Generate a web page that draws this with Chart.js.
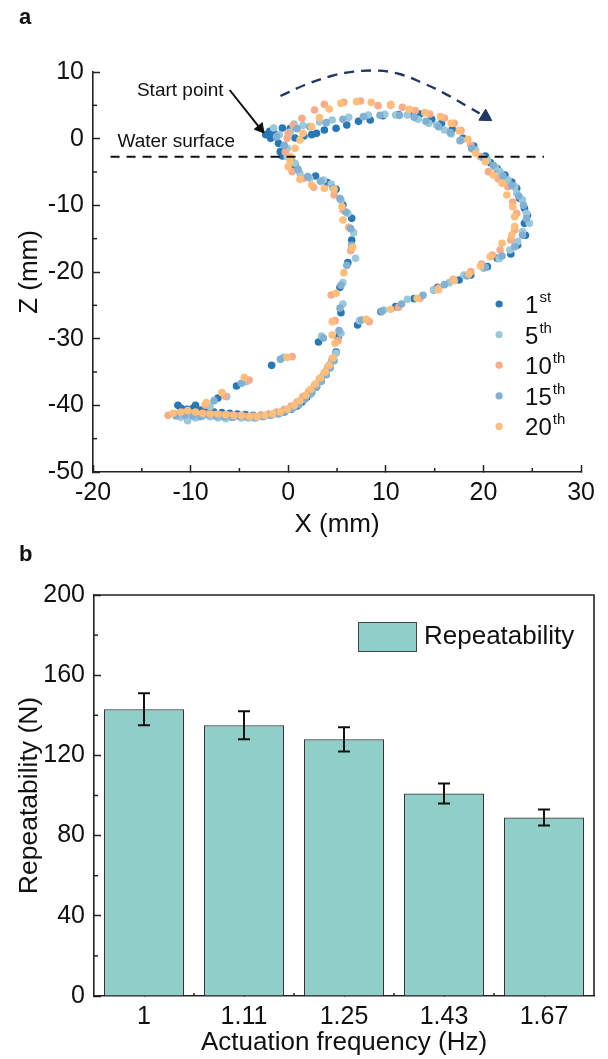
<!DOCTYPE html>
<html>
<head>
<meta charset="utf-8">
<script src="https://cdn.jsdelivr.net/npm/chart.js@4.4.1/dist/chart.umd.min.js"></script>
<style>
  html, body { margin: 0; padding: 0; background: #fff; }
  #wrap { position: relative; width: 608px; height: 1059px; }
  .panel { position: absolute; left: 0; width: 608px; }
  .tag { position: absolute; left: 19px; font: bold 22px 'Liberation Sans', Arial, sans-serif; color: #111; }
</style>
</head>
<body>
<div id="wrap">
  <div class="panel" style="top:0;height:540px"><canvas id="traj" width="608" height="540"></canvas></div>
  <div class="panel" style="top:540px;height:519px"><canvas id="bars" width="608" height="519"></canvas></div>
  <div class="tag" style="top:4px">a</div>
  <div class="tag" style="top:541px">b</div>
</div>
<script>
const FONT = "'Liberation Sans', Arial, sans-serif";
const INK = '#222';

// panel a: trajectories, [X mm, Z mm]
const cycleNames = ['1', '5', '10', '15', '20'];
const cycleSup = ['st', 'th', 'th', 'th', 'th'];
const cycleColors = ['#2878B5', '#9AC9DB', '#F8AC8C', '#82B0D2', '#FFBE7A'];

const cycle1 = [
  [-2.3,0.6],[-1.9,1.1],[-1.8,0.05],[-1.5,1.0],[-1.3,0.3],[-1.0,-0.7],[-0.8,-1.95],[-0.6,-2.6],
  [-0.6,1.6],[0.2,1.5],[0.7,0.1],[1.6,0.4],[2.4,0.6],[2.9,0.8],[3.7,1.3],[4.9,1.55],[6.0,2.05],[7.2,2.6],[8.4,2.8],[9.7,3.45],
  [11.3,3.6],[12.4,3.75],[13.5,3.7],[14.7,2.9],[15.7,2.3],[16.8,1.4],[17.9,0.05],[19.0,-1.1],[20.2,-2.6],[20.7,-3.6],
  [21.4,-4.5],[22.2,-5.45],[22.9,-6.5],[23.4,-7.45],[23.7,-8.95],[24.2,-10.45],[24.5,-11.5],[24.2,-12.7],[24.3,-14.5],
  [23.5,-15.95],[22.8,-17.3],[21.4,-17.95],[20.4,-19.2],[18.7,-20.45],[17.5,-21.2],[15.3,-22.3],[14.9,-22.7],[12.9,-24.0],
  [11.0,-25.2],[9.5,-25.95],[7.1,-27.95],
  [3.1,-30.5],[-1.7,-34.0],[-5.3,-37.1],[-7.2,-38.9],[-9.5,-40.0],[-11.3,-40.0],
  [-11.0,-40.4],[-10.4,-40.6],[-9.8,-40.5],[-9.0,-40.7],[-8.3,-40.9],[-7.6,-41.0],[-6.8,-41.1],[-6.0,-41.2],[-5.2,-41.3],
  [-4.4,-41.4],[-3.6,-41.5],[-2.8,-41.5],[-2.0,-41.4],[-1.2,-41.2],[-0.4,-41.0],[0.3,-40.6],[0.9,-40.1],[1.4,-39.5],
  [1.9,-38.8],[2.4,-38.0],[2.9,-37.1],[3.3,-36.2],[3.7,-35.3],[4.1,-34.3],[4.5,-33.3],[4.9,-32.0],
  [5.1,-29.8],[5.4,-26.1],[5.3,-22.3],[6.1,-18.6],[6.5,-15.2],[6.5,-11.95],[5.6,-9.95],[4.9,-7.6],[4.0,-6.6],[2.8,-5.6],
  [0.7,-4.0],[-0.8,-1.95]
];
const cycle5 = [
  [-1.5,1.6],[-0.9,0.6],[-0.1,-1.45],[-0.1,-2.7],[0.7,-3.7],[1.2,-5.2],[2.2,-5.95],[3.6,-6.2],[4.4,-6.8],[5.4,-9.2],
  [6.1,-11.2],[6.7,-14.1],[6.9,-17.95],[5.6,-21.6],[5.6,-24.8],[5.4,-29.2],[4.9,-32.2],
  [0.2,1.0],[0.6,2.2],[1.5,2.0],[3.2,2.5],[4.5,2.8],[6.2,3.2],[8.2,3.55],[9.9,3.65],[11.0,3.55],[12.2,3.55],[13.3,2.9],
  [14.4,2.3],[15.2,2.05],[16.0,1.3],[16.7,0.7],[17.7,-0.2],[19.2,-1.7],[20.4,-3.2],[21.2,-4.3],[21.7,-4.95],[22.5,-6.2],
  [23.2,-7.2],[23.4,-8.2],[24.0,-9.2],[24.4,-11.2],[24.7,-12.7],[24.0,-13.95],[23.5,-15.45],[22.7,-16.7],[21.6,-18.0],
  [20.0,-19.45],[18.0,-20.45],[16.5,-21.6],[14.9,-22.7],[12.2,-24.1],[9.8,-25.7],[7.3,-27.3],[3.4,-29.6],[-0.5,-32.8],
  [-4.3,-36.45],[-6.3,-38.7],[-8.0,-40.2],
  [-11.0,-41.8],[-10.3,-42.3],[-9.5,-41.9],[-8.8,-41.6],[-8.0,-41.7],[-7.2,-41.9],[-6.4,-42.0],[-5.6,-41.8],[-4.8,-41.9],
  [-4.0,-41.9],[-3.2,-41.8],[-2.4,-41.6],[-1.6,-41.4],[-0.8,-41.1],[0.0,-40.6],[0.6,-40.1],[1.2,-39.4],[1.8,-38.6],
  [2.4,-37.7],[2.9,-36.8],[3.4,-35.8],[3.9,-34.8],[4.3,-33.8]
];
const cycle10 = [
  [-0.1,0.05],[0.0,0.8],[0.5,2.0],[1.4,3.05],[2.7,4.3],[3.7,5.15],[5.7,5.45],[7.4,5.65],[9.2,4.95],[10.5,5.0],[11.7,4.7],
  [13.0,4.2],[14.5,3.7],[16.0,3.1],[17.0,2.3],[17.7,1.2],[18.7,-1.0],[19.7,-2.7],[20.5,-4.95],[21.5,-6.0],[22.5,-7.2],
  [23.0,-9.5],[23.4,-11.2],[23.2,-13.7],[22.8,-15.2],[21.7,-16.7],[20.9,-17.45],[19.8,-18.8],[18.7,-19.95],[16.9,-21.1],
  [15.4,-22.4],[13.5,-23.95],[11.3,-25.3],[8.3,-27.45],[0.4,-32.7],[-4.0,-36.2],[-6.5,-38.6],[-8.5,-39.95],
  [-12.3,-41.5],[-11.6,-41.3],[-10.8,-41.1],[-10.0,-41.2],[-9.2,-41.4],[-8.4,-41.3],[-7.6,-41.4],[-6.8,-41.5],[-6.0,-41.5],
  [-5.2,-41.6],[-4.4,-41.7],[-3.6,-41.6],[-2.8,-41.5],[-2.0,-41.3],[-1.2,-41.0],[-0.4,-40.6],[0.3,-40.1],[0.9,-39.5],
  [1.5,-38.7],[2.1,-37.9],[2.7,-37.0],[3.2,-36.0],[3.7,-35.1],[4.1,-34.2],[4.5,-33.0],
  [5.1,-30.3],[4.8,-27.3],[4.4,-23.45],[6.4,-16.8],[6.2,-13.3],[5.6,-10.7],[4.7,-8.45],[2.6,-7.3],[1.6,-5.95],[0.4,-4.95],
  [-0.3,-2.0]
];
const cycle15 = [
  [-1.2,0.3],[-0.4,-1.0],[0.3,-3.2],[1.0,-4.6],[2.0,-5.7],[3.3,-6.4],[4.6,-7.4],[5.3,-9.0],[5.9,-11.0],[6.4,-13.5],
  [6.5,-16.0],[6.0,-19.0],[5.4,-22.0],[5.3,-25.4],[5.2,-28.8],
  [0.9,1.5],[2.2,1.8],[3.9,2.4],[5.6,2.9],[7.7,3.3],[9.4,3.5],[11.4,3.5],[12.9,3.2],[14.1,2.6],[15.4,1.8],[16.6,0.9],
  [17.6,-0.3],[18.8,-1.5],[20.0,-2.9],[21.0,-4.0],[22.0,-5.6],[22.9,-7.0],[23.6,-8.6],[24.1,-10.0],[24.4,-12.0],
  [24.0,-14.5],[23.2,-16.2],[21.9,-17.6],[20.2,-19.3],[18.3,-20.6],[16.0,-21.9],[13.8,-23.5],[11.6,-24.8],[9.6,-25.9],
  [7.5,-27.2],[3.6,-29.9],[-0.8,-33.1],[-4.8,-36.7],[-7.6,-39.3],
  [-11.5,-41.6],[-10.6,-41.5],[-9.8,-41.6],[-9.0,-41.7],[-8.2,-41.4],[-7.4,-41.6],[-6.6,-41.7],[-5.8,-41.8],[-5.0,-41.6],
  [-4.2,-41.8],[-3.4,-41.9],[-2.6,-41.7],[-1.8,-41.5],[-1.0,-41.3],[-0.3,-40.9],[0.4,-40.5],[1.1,-39.9],[1.7,-39.1],
  [2.3,-38.3],[2.9,-37.3],[3.4,-36.4],[3.9,-35.4],[4.3,-34.4],[4.7,-33.3]
];
const cycle20 = [
  [0.2,-2.7],[0.7,-1.45],[1.2,-0.2],[1.5,0.8],[2.4,1.8],[3.2,3.15],[4.2,4.45],[5.4,5.3],[7.0,5.55],[8.5,5.45],[10.5,5.15],
  [12.4,4.4],[14.0,3.9],[15.6,3.3],[16.7,2.3],[17.5,1.2],[18.4,-0.1],[19.2,-2.2],[20.2,-3.45],[21.0,-5.45],[21.9,-6.7],
  [22.4,-8.45],[23.0,-10.2],[23.2,-11.7],[23.2,-13.2],[22.9,-14.45],[21.9,-15.7],[20.7,-17.7],[19.7,-19.1],[18.5,-20.3],
  [17.0,-21.3],[15.4,-22.7],[13.2,-23.95],[10.5,-25.6],[8.0,-27.1],[-0.1,-32.8],[-4.5,-35.8],[-6.8,-38.1],[-8.4,-39.6],
  [-11.8,-41.2],[-11.0,-41.0],[-10.3,-40.8],[-9.5,-41.0],[-8.8,-41.2],[-8.0,-41.3],[-7.2,-41.3],[-6.4,-41.4],[-5.6,-41.5],
  [-4.8,-41.5],[-4.0,-41.7],[-3.2,-41.7],[-2.4,-41.5],[-1.6,-41.3],[-0.8,-41.0],[-0.1,-40.6],[0.6,-40.0],[1.2,-39.3],
  [1.8,-38.5],[2.3,-37.6],[2.8,-36.8],[3.3,-35.9],[3.8,-35.0],[4.2,-34.0],[4.6,-32.9],[4.8,-30.7],
  [4.5,-29.45],[4.5,-27.45],[4.9,-23.2],[5.7,-20.1],[6.6,-16.3],[5.6,-12.2],[5.5,-10.2],[4.7,-7.6],[3.7,-7.45],[2.4,-6.95],
  [1.2,-6.1],[0.0,-4.2],[0.2,-3.4]
];
const cycles = [cycle1, cycle5, cycle10, cycle15, cycle20];

// guide lines
const waterLevel = [[-18.2,-2.7],[26.2,-2.7]];
const motionArc = [[-0.8,6.4],[1.7,8.05],[4.4,9.4],[6.7,10.05],[9.2,10.2],[11.4,9.7],[13.7,8.4],[16.0,6.8],[18.4,4.8],[19.6,3.8]];
const motionHead = [[20.2,3.3]];
const startArrow = [[-6.0,7.3],[-2.88,1.56]];
const startHead = [[-2.88,1.56]];

const xTicksA = [-20, 30, 10];
const zTicksA = [-50, 10, 10];

// panel b
const freqLabels = ['1', '1.11', '1.25', '1.43', '1.67'];
const repeatability = [143, 135, 128, 101, 89];
const repeatErr = [8, 7, 6, 5, 4];

const pts = a => a.map(p => ({x: p[0], y: p[1]}));

function minorTicks(chart, id, values, len) {
  const s = chart.scales[id], a = chart.chartArea, ctx = chart.ctx;
  ctx.save();
  ctx.strokeStyle = INK;
  ctx.lineWidth = 1.5;
  values.forEach(v => {
    const p = s.getPixelForValue(v);
    ctx.beginPath();
    if (s.isHorizontal()) { ctx.moveTo(p, a.bottom); ctx.lineTo(p, a.bottom - len); }
    else { ctx.moveTo(a.left, p); ctx.lineTo(a.left + len, p); }
    ctx.stroke();
  });
  ctx.restore();
}

const trajExtras = {
  id: 'trajExtras',
  afterDraw(chart) {
    const ctx = chart.ctx, a = chart.chartArea, x = chart.scales.x, y = chart.scales.y;
    minorTicks(chart, 'x', [-15, -5, 5, 15, 25], 4);
    minorTicks(chart, 'y', [-45, -35, -25, -15, -5, 5], 4);
    ctx.save();
    ctx.fillStyle = '#111';
    ctx.font = '19px ' + FONT;
    ctx.textBaseline = 'middle';
    ctx.fillText('Start point', x.getPixelForValue(-15.5), y.getPixelForValue(7.2));
    ctx.fillText('Water surface', x.getPixelForValue(-17.5), y.getPixelForValue(-0.4));
    // legend
    cycleNames.forEach((n, i) => {
      const ly = a.top + 232 + i * 30.6;
      ctx.beginPath();
      ctx.fillStyle = cycleColors[i];
      ctx.arc(a.right - 82, ly, 3.6, 0, Math.PI * 2);
      ctx.fill();
      ctx.fillStyle = '#111';
      ctx.font = '24px ' + FONT;
      ctx.textBaseline = 'alphabetic';
      ctx.fillText(n, a.right - 56, ly + 9);
      const w = ctx.measureText(n).width;
      ctx.font = '15px ' + FONT;
      ctx.fillText(cycleSup[i], a.right - 56 + w + 1, ly - 2);
    });
    ctx.restore();
  }
};

const dotSets = cycles.map((c, i) => ({
  label: cycleNames[i] + cycleSup[i],
  data: pts(c),
  backgroundColor: cycleColors[i],
  borderWidth: 0,
  pointRadius: 3.8,
  order: 5 - i
}));

new Chart(document.getElementById('traj'), {
  type: 'scatter',
  data: {
    datasets: dotSets.concat([
      { data: pts(waterLevel), showLine: true, borderColor: '#111', borderWidth: 2, borderDash: [9, 7], pointRadius: 0, order: -1 },
      { data: pts(motionArc), showLine: true, tension: 0.4, clip: false, borderColor: '#1F3864', borderWidth: 2.4, borderDash: [10, 7], pointRadius: 0, order: -1 },
      { data: pts(motionHead), clip: false, pointStyle: 'triangle', rotation: 122, pointRadius: 7.5, backgroundColor: '#1F3864', borderColor: '#1F3864', borderWidth: 1, order: -1 },
      { data: pts(startArrow), showLine: true, borderColor: '#111', borderWidth: 2, pointRadius: 0, order: -1 },
      { data: pts(startHead), pointStyle: 'triangle', rotation: 141, pointRadius: 6, backgroundColor: '#111', borderColor: '#111', borderWidth: 1, order: -1 }
    ])
  },
  options: {
    responsive: false,
    animation: false,
    layout: { padding: { left: 0, right: 15, top: 72, bottom: 0 } },
    plugins: { legend: { display: false }, tooltip: { enabled: false } },
    scales: {
      x: {
        type: 'linear', min: xTicksA[0], max: xTicksA[1],
        afterFit: s => { s.height = 68; },
        border: { color: INK, width: 1.6 },
        grid: { drawOnChartArea: false, tickLength: -7, tickColor: INK, tickWidth: 1.5 },
        ticks: { stepSize: xTicksA[2], padding: 13, color: '#111', font: { family: FONT, size: 25 } },
        title: { display: true, text: 'X (mm)', color: '#111', padding: { top: 0, bottom: 0 }, font: { family: FONT, size: 26 } }
      },
      y: {
        type: 'linear', min: zTicksA[0], max: zTicksA[1],
        afterFit: s => { s.width = 93; },
        border: { color: INK, width: 1.6 },
        grid: { drawOnChartArea: false, tickLength: -7, tickColor: INK, tickWidth: 1.5 },
        ticks: { stepSize: zTicksA[2], padding: 16, color: '#111', font: { family: FONT, size: 25 } },
        title: { display: true, text: 'Z (mm)', color: '#111', padding: { top: 14, bottom: 0 }, font: { family: FONT, size: 26 } }
      }
    }
  },
  plugins: [trajExtras]
});

const barColor = '#90CEC8';

const barExtras = {
  id: 'barExtras',
  afterDatasetsDraw(chart) {
    const ctx = chart.ctx, y = chart.scales.y, meta = chart.getDatasetMeta(0);
    ctx.save();
    ctx.strokeStyle = '#111';
    ctx.lineWidth = 2;
    meta.data.forEach((bar, i) => {
      const hi = y.getPixelForValue(repeatability[i] + repeatErr[i]);
      const lo = y.getPixelForValue(repeatability[i] - repeatErr[i]);
      ctx.beginPath();
      ctx.moveTo(bar.x, hi); ctx.lineTo(bar.x, lo);
      ctx.moveTo(bar.x - 6, hi); ctx.lineTo(bar.x + 6, hi);
      ctx.moveTo(bar.x - 6, lo); ctx.lineTo(bar.x + 6, lo);
      ctx.stroke();
    });
    ctx.restore();
  },
  afterDraw(chart) {
    const ctx = chart.ctx, a = chart.chartArea;
    minorTicks(chart, 'x', [0.5, 1.5, 2.5, 3.5], 3);
    minorTicks(chart, 'y', [20, 60, 100, 140, 180], 4);
    ctx.save();
    ctx.strokeStyle = INK;
    ctx.lineWidth = 1.6;
    ctx.beginPath();
    ctx.moveTo(a.left, a.top); ctx.lineTo(a.right, a.top); ctx.lineTo(a.right, a.bottom);
    ctx.stroke();
    // legend
    const bx = a.right - 236, by = a.top + 27;
    ctx.fillStyle = barColor;
    ctx.fillRect(bx, by, 58, 29);
    ctx.strokeStyle = '#444';
    ctx.lineWidth = 1;
    ctx.strokeRect(bx + 0.5, by + 0.5, 58, 29);
    ctx.fillStyle = '#111';
    ctx.font = '26px ' + FONT;
    ctx.textBaseline = 'middle';
    ctx.fillText('Repeatability', bx + 66, by + 15);
    ctx.restore();
  }
};

new Chart(document.getElementById('bars'), {
  type: 'bar',
  data: {
    labels: freqLabels,
    datasets: [{
      label: 'Repeatability',
      data: repeatability,
      backgroundColor: barColor,
      borderColor: '#333',
      borderWidth: 1.2,
      categoryPercentage: 1,
      barPercentage: 0.8
    }]
  },
  options: {
    responsive: false,
    animation: false,
    layout: { padding: { left: 0, right: 14, top: 55, bottom: 0 } },
    plugins: { legend: { display: false }, tooltip: { enabled: false } },
    scales: {
      x: {
        afterFit: s => { s.height = 63; },
        border: { color: INK, width: 1.6 },
        grid: { offset: false, drawOnChartArea: false, tickLength: -7, tickColor: INK, tickWidth: 1.5 },
        ticks: { padding: 13, color: '#111', font: { family: FONT, size: 25 } },
        title: { display: true, text: 'Actuation frequency (Hz)', color: '#111', padding: { top: 0, bottom: 1 }, font: { family: FONT, size: 26 } }
      },
      y: {
        min: 0, max: 200,
        afterFit: s => { s.width = 94; },
        border: { color: INK, width: 1.6 },
        grid: { drawOnChartArea: false, tickLength: -7, tickColor: INK, tickWidth: 1.5 },
        ticks: { stepSize: 40, padding: 16, color: '#111', font: { family: FONT, size: 25 } },
        title: { display: true, text: 'Repeatability (N)', color: '#111', padding: { top: 14, bottom: 0 }, font: { family: FONT, size: 26.5 } }
      }
    }
  },
  plugins: [barExtras]
});
</script>
</body>
</html>
